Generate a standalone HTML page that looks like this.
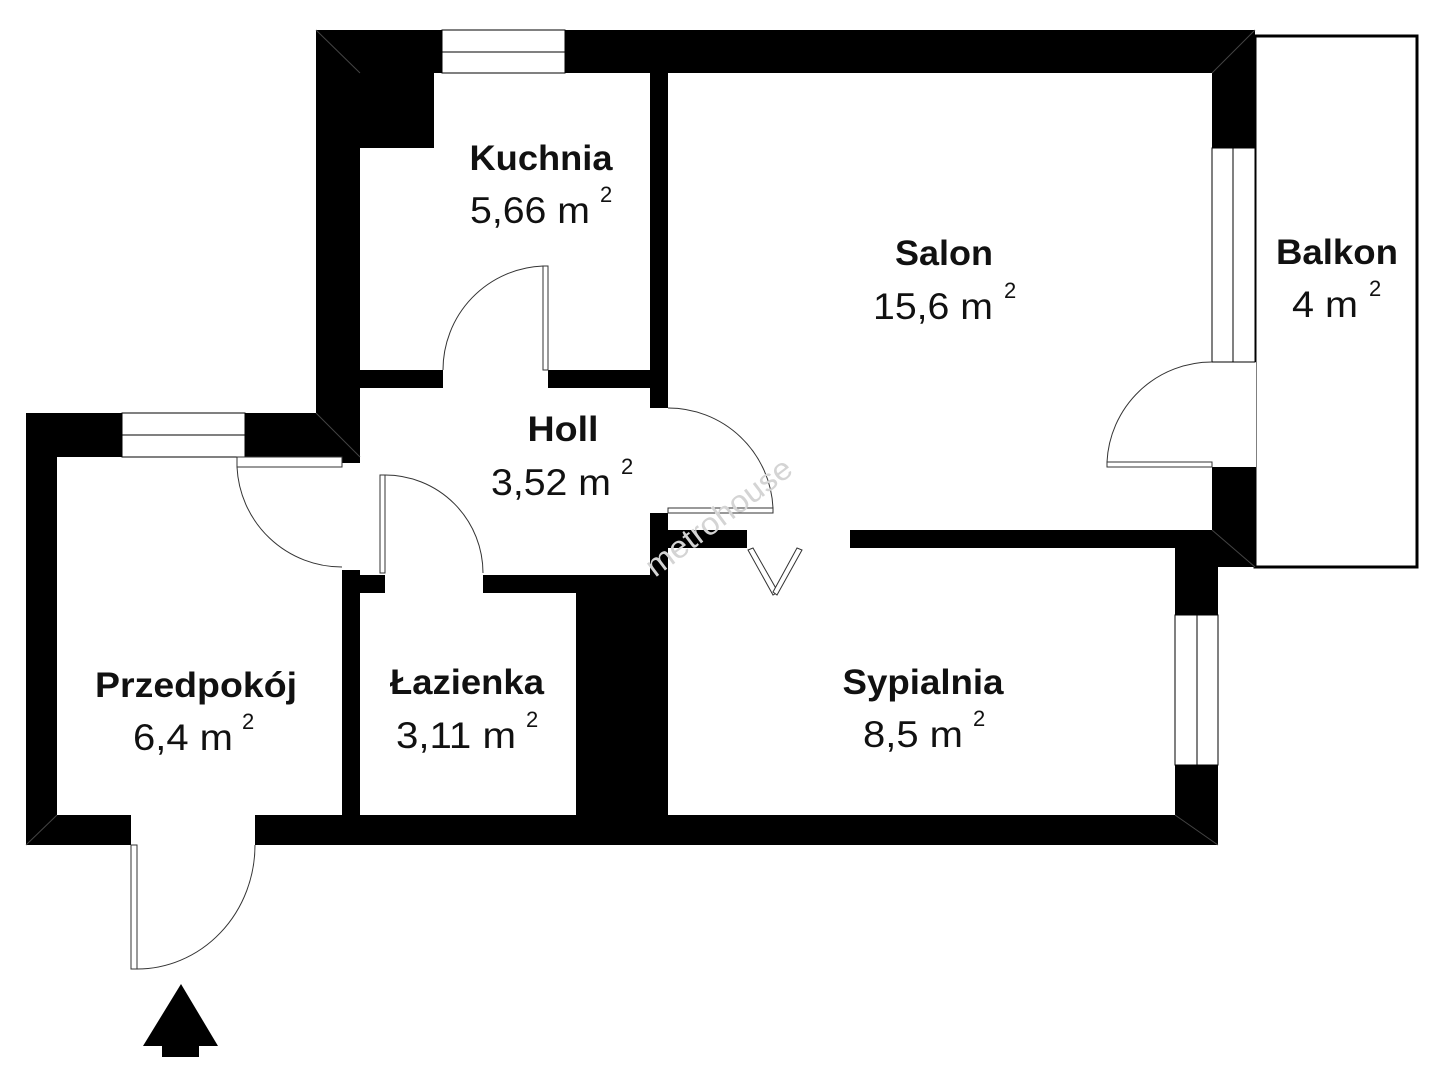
<!DOCTYPE html>
<html><head><meta charset="utf-8"><style>
html,body{margin:0;padding:0;background:#fff;}
svg{display:block;}
text{font-family:"Liberation Sans",sans-serif;fill:#111;}
.b{font-weight:bold;font-size:35px;}
.n{font-size:37px;}
.s{font-size:22px;}
</style></head><body>
<svg width="1440" height="1080" viewBox="0 0 1440 1080" xmlns="http://www.w3.org/2000/svg">
<rect width="1440" height="1080" fill="#fff"/>
<rect x="1255" y="36" width="162" height="531" fill="#fff" stroke="#000" stroke-width="3"/>
<polygon points="316,30 1255,30 1255,567 1218,567 1218,845 26,845 26,413 316,413" fill="#000"/>
<g fill="#fff">
<polygon points="434,73 650,73 650,370 360,370 360,148 434,148"/>
<rect x="668" y="73" width="544" height="457"/>
<rect x="360" y="388" width="290" height="187"/>
<rect x="57" y="457" width="285" height="358"/>
<rect x="360" y="593" width="216" height="222"/>
<rect x="668" y="548" width="507" height="267"/>
<rect x="443" y="369" width="105" height="20"/>
<rect x="649" y="408" width="20" height="105"/>
<rect x="747" y="529" width="103" height="20"/>
<rect x="385" y="574" width="98" height="20"/>
<rect x="341" y="463" width="20" height="107"/>
<rect x="131" y="814" width="124" height="32"/>
<rect x="1211" y="362" width="45" height="105"/>
</g>
<g fill="#fff" stroke="#000" stroke-width="1">
<rect x="442" y="30" width="123" height="43"/>
<line x1="442" y1="52" x2="565" y2="52"/>
<rect x="1212" y="148" width="43" height="214"/>
<line x1="1233" y1="148" x2="1233" y2="362"/>
<rect x="122" y="413" width="123" height="44"/>
<line x1="122" y1="435" x2="245" y2="435"/>
<rect x="1175" y="615" width="43" height="150"/>
<line x1="1197" y1="615" x2="1197" y2="765"/>
</g>
<g stroke="#444" stroke-width="1">
<line x1="316" y1="30" x2="360" y2="73"/>
<line x1="316" y1="413" x2="360" y2="457"/>
<line x1="1255" y1="30" x2="1212" y2="73"/>
<line x1="1255" y1="567" x2="1212" y2="530"/>
<line x1="1218" y1="845" x2="1175" y2="815"/>
<line x1="26" y1="845" x2="57" y2="815"/>
</g>
<g fill="none" stroke="#333" stroke-width="1">
<rect x="543" y="266" width="5" height="104" fill="#fff"/>
<path d="M543,266 A104,104 0 0 0 443,370"/>
<rect x="668" y="508" width="105" height="5" fill="#fff"/>
<path d="M668,408 A105,105 0 0 1 773,508"/>
<rect x="1107" y="462" width="105" height="5" fill="#fff"/>
<path d="M1212,362 A105,105 0 0 0 1107,462"/>
<rect x="380" y="475" width="5" height="98" fill="#fff"/>
<path d="M385,475 A98,98 0 0 1 483,573"/>
<rect x="237" y="457" width="105" height="10" fill="#fff"/>
<path d="M237,467 A105,105 0 0 0 342,567"/>
<rect x="131" y="845" width="6" height="124" fill="#fff"/>
<path d="M137,969 A118,124 0 0 0 255,845"/>
<polygon points="748,550 753,548 778,592 773,595" fill="#fff"/>
<polygon points="797,548 802,550 777,595 773,592" fill="#fff"/>
</g>
<polygon points="181,984 218,1046 199,1046 199,1057 162,1057 162,1046 143,1046" fill="#000"/>
<text x="0" y="0" transform="translate(655,578) rotate(-37)" style="font-size:31px;fill:#d4d4d4;" textLength="175" lengthAdjust="spacingAndGlyphs">metrohouse</text>
<text class="b" x="541" y="170" text-anchor="middle" textLength="143" lengthAdjust="spacingAndGlyphs">Kuchnia</text>
<text class="n" x="470" y="223" textLength="120" lengthAdjust="spacingAndGlyphs">5,66 m</text>
<text class="s" x="600" y="202">2</text>
<text class="b" x="944" y="265" text-anchor="middle" textLength="98" lengthAdjust="spacingAndGlyphs">Salon</text>
<text class="n" x="873" y="319" textLength="120" lengthAdjust="spacingAndGlyphs">15,6 m</text>
<text class="s" x="1004" y="298">2</text>
<text class="b" x="1337" y="264" text-anchor="middle" textLength="122" lengthAdjust="spacingAndGlyphs">Balkon</text>
<text class="n" x="1292" y="317" textLength="66" lengthAdjust="spacingAndGlyphs">4 m</text>
<text class="s" x="1369" y="296">2</text>
<text class="b" x="563" y="441" text-anchor="middle" textLength="71" lengthAdjust="spacingAndGlyphs">Holl</text>
<text class="n" x="491" y="495" textLength="120" lengthAdjust="spacingAndGlyphs">3,52 m</text>
<text class="s" x="621" y="474">2</text>
<text class="b" x="196" y="697" text-anchor="middle" textLength="202" lengthAdjust="spacingAndGlyphs">Przedpokój</text>
<text class="n" x="133" y="750" textLength="100" lengthAdjust="spacingAndGlyphs">6,4 m</text>
<text class="s" x="242" y="729">2</text>
<text class="b" x="467" y="694" text-anchor="middle" textLength="154" lengthAdjust="spacingAndGlyphs">Łazienka</text>
<text class="n" x="396" y="748" textLength="120" lengthAdjust="spacingAndGlyphs">3,11 m</text>
<text class="s" x="526" y="727">2</text>
<text class="b" x="923" y="694" text-anchor="middle" textLength="161" lengthAdjust="spacingAndGlyphs">Sypialnia</text>
<text class="n" x="863" y="747" textLength="100" lengthAdjust="spacingAndGlyphs">8,5 m</text>
<text class="s" x="973" y="726">2</text>
</svg>
</body></html>
